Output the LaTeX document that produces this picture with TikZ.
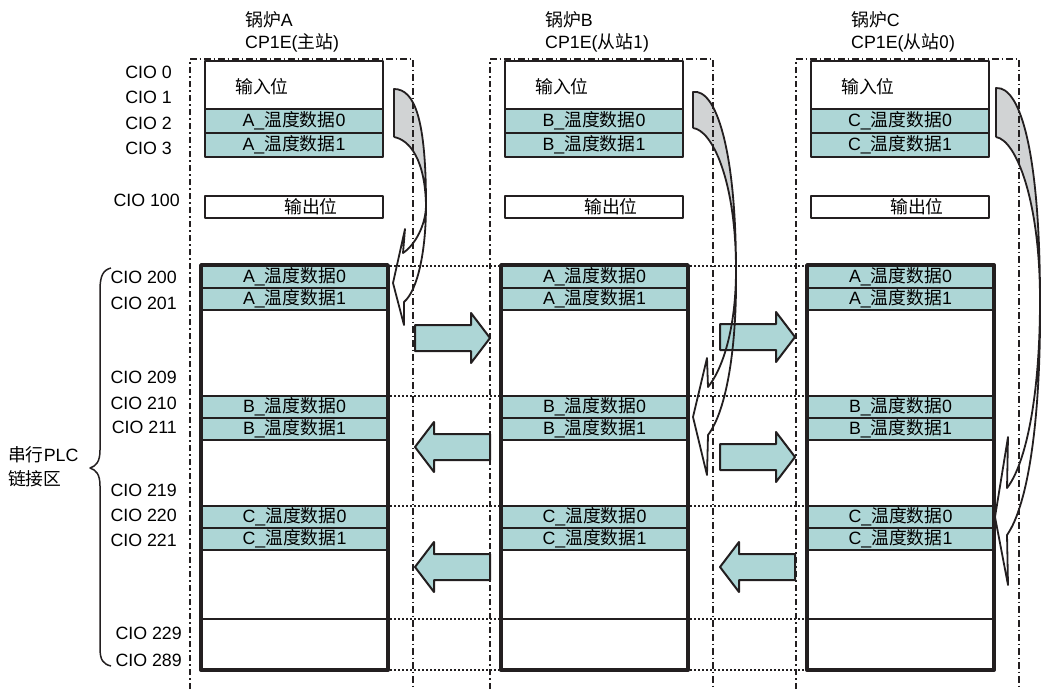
\documentclass[tikz,border=0pt]{standalone}
\usepackage{fontspec}
\setmainfont{Liberation Sans}
\newfontfamily\cjk{Noto Sans CJK SC}
\definecolor{ink}{RGB}{35,31,32}
\definecolor{cellfill}{RGB}{173,214,214}
\definecolor{bendgray}{RGB}{209,211,212}

\begin{document}
\begin{tikzpicture}[x=1pt, y=-1pt, line join=round,
    font=\fontsize{17.8}{20}\selectfont,
    tag/.style={inner sep=0pt},
    cellbox/.style={draw=ink, line width=2.4pt, inner sep=0pt, minimum width=178pt},
    linkrow/.style={draw=ink, line width=2.4pt, fill=cellfill, inner sep=0pt,
        minimum width=187pt, minimum height=22pt},
    cio/.style={anchor=east, inner sep=0pt},
    frameline/.style={ink, line width=2pt, dash pattern=on 6.5pt off 3pt on 1.5pt off 3pt},
    gridline/.style={ink, line width=1.8pt, dash pattern=on 1.5pt off 2.5pt},
    bendline/.style={ink, line width=1.8pt},
    fatarrow/.pic={\draw[ink, line width=2pt, fill=cellfill]
        (-75,-13) -- (-19,-13) -- (-19,-25) -- (0,0) -- (-19,25) -- (-19,13) -- (-75,13) -- cycle;}]

    \useasboundingbox (0,0) rectangle (1043,689);

    % grey backs of the bent arrows
    \fill[bendgray] (394,89) .. controls (415,89) and (426,120) .. (426,205)
        .. controls (425,160) and (410,140) .. (394,137) -- cycle;
    \fill[bendgray] (693,92) .. controls (716,88) and (736,150) .. (736,270)
        .. controls (736,180) and (712,130) .. (693,128) -- cycle;
    \fill[bendgray] (996,88) .. controls (1022,86) and (1040,160) .. (1040,300)
        .. controls (1040,200) and (1016,140) .. (996,137) -- cycle;

    % the three PLCs
    \foreach \c/\dx/\role in {A/0/主站, B/300/从站1, C/606/从站0} {
        \node[tag, anchor=west] (boiler\c) at (245+\dx,20) {{\cjk 锅炉}\c};
        \node[tag, anchor=west] (model\c) at (245+\dx,43) {CP1E({\cjk\role})};
        \draw[frameline] (190+\dx,689) -- (190+\dx,59) -- (413+\dx,59) -- (413+\dx,689);

        \node[cellbox, fill=white, minimum height=48pt] (in\c) at (294+\dx,85) {};
        \node (inlab\c) at (262+\dx,87) {\cjk 输入位};
        \node[cellbox, fill=cellfill, minimum height=24pt] (dzero\c) at (294+\dx,121) {\c\_{\cjk 温度数据}0};
        \node[cellbox, fill=cellfill, minimum height=24pt] (done\c) at (294+\dx,145) {\c\_{\cjk 温度数据}1};
        \node[cellbox, fill=white, minimum height=22pt] (out\c) at (294+\dx,207) {};
        \node (outlab\c) at (311+\dx,207) {\cjk 输出位};

        \foreach \s/\y in {A/277, B/407, C/517} {
            \node[linkrow] (r\s zero\c) at (294.5+\dx,\y) {\s\_{\cjk 温度数据}0};
            \node[linkrow] (r\s one\c) at (294.5+\dx,\y+22) {\s\_{\cjk 温度数据}1};
        }
        \node[draw=ink, line width=3.8pt, inner sep=0pt, minimum width=187pt,
            minimum height=405pt] (link\c) at (294.5+\dx,467.5) {};
        \draw[ink, line width=2.4pt] (201+\dx,619) -- (388+\dx,619);
    }

    \foreach \y in {266,396,506,619,670}
        \draw[gridline] (390,\y) -- (499,\y) (690,\y) -- (805,\y);

    % address labels
    \foreach \n/\y in {0/72, 1/97, 2/123, 3/148}
        \node[cio] (cio\n) at (172,\y) {CIO \n};
    \node[cio] (cio100) at (180,200) {CIO 100};
    \foreach \n/\y in {200/277, 201/303, 209/377, 210/403, 211/427,
                       219/490, 220/515, 221/540}
        \node[cio] (cio\n) at (177,\y) {CIO \n};
    \node[cio] (cio229) at (182,633) {CIO 229};
    \node[cio] (cio289) at (182,660) {CIO 289};

    % serial link area
    \draw[ink, line width=1.5pt] (111,268) .. controls (103,270) and (100,276) .. (100,290)
        -- (100,450) .. controls (100,462) and (96,466) .. (90,468)
        .. controls (96,470) and (100,474) .. (100,486) -- (100,648)
        .. controls (100,660) and (103,664) .. (111,666);
    \node[tag, anchor=west] (zone1) at (8,455) {{\cjk 串行}PLC};
    \node[tag, anchor=west] (zone2) at (8,479) {\cjk 链接区};

    % data transfer
    \pic at (490,338) {fatarrow};
    \pic[xscale=-1] at (415,447) {fatarrow};
    \pic[xscale=-1] at (415,567) {fatarrow};
    \pic at (795,337) {fatarrow};
    \pic at (795,457) {fatarrow};
    \pic[xscale=-1] at (720,567) {fatarrow};

    % bent arrows
    \draw[bendline] (394,137) -- (394,89) .. controls (415,89) and (426,120) .. (426,205)
        .. controls (426,250) and (418,290) .. (404,302) -- (404,325) -- (393,283)
        -- (405,229) -- (403,253) .. controls (415,245) and (426,225) .. (426,205)
        .. controls (425,160) and (410,140) .. (394,137);
    \draw[bendline] (693,128) -- (693,92) .. controls (716,88) and (736,150) .. (736,270)
        .. controls (737,345) and (727,410) .. (708,435) -- (707,475) -- (693,417)
        -- (707,358) -- (708,387) .. controls (722,370) and (736,330) .. (736,270)
        .. controls (736,180) and (712,130) .. (693,128);
    \draw[bendline] (996,137) -- (996,88) .. controls (1022,86) and (1040,160) .. (1040,300)
        .. controls (1041,420) and (1028,505) .. (1007,535) -- (1008,585) -- (995,517)
        -- (1008,437) -- (1007,488) .. controls (1025,465) and (1040,400) .. (1040,300)
        .. controls (1040,200) and (1016,140) .. (996,137);
\end{tikzpicture}
\end{document}
